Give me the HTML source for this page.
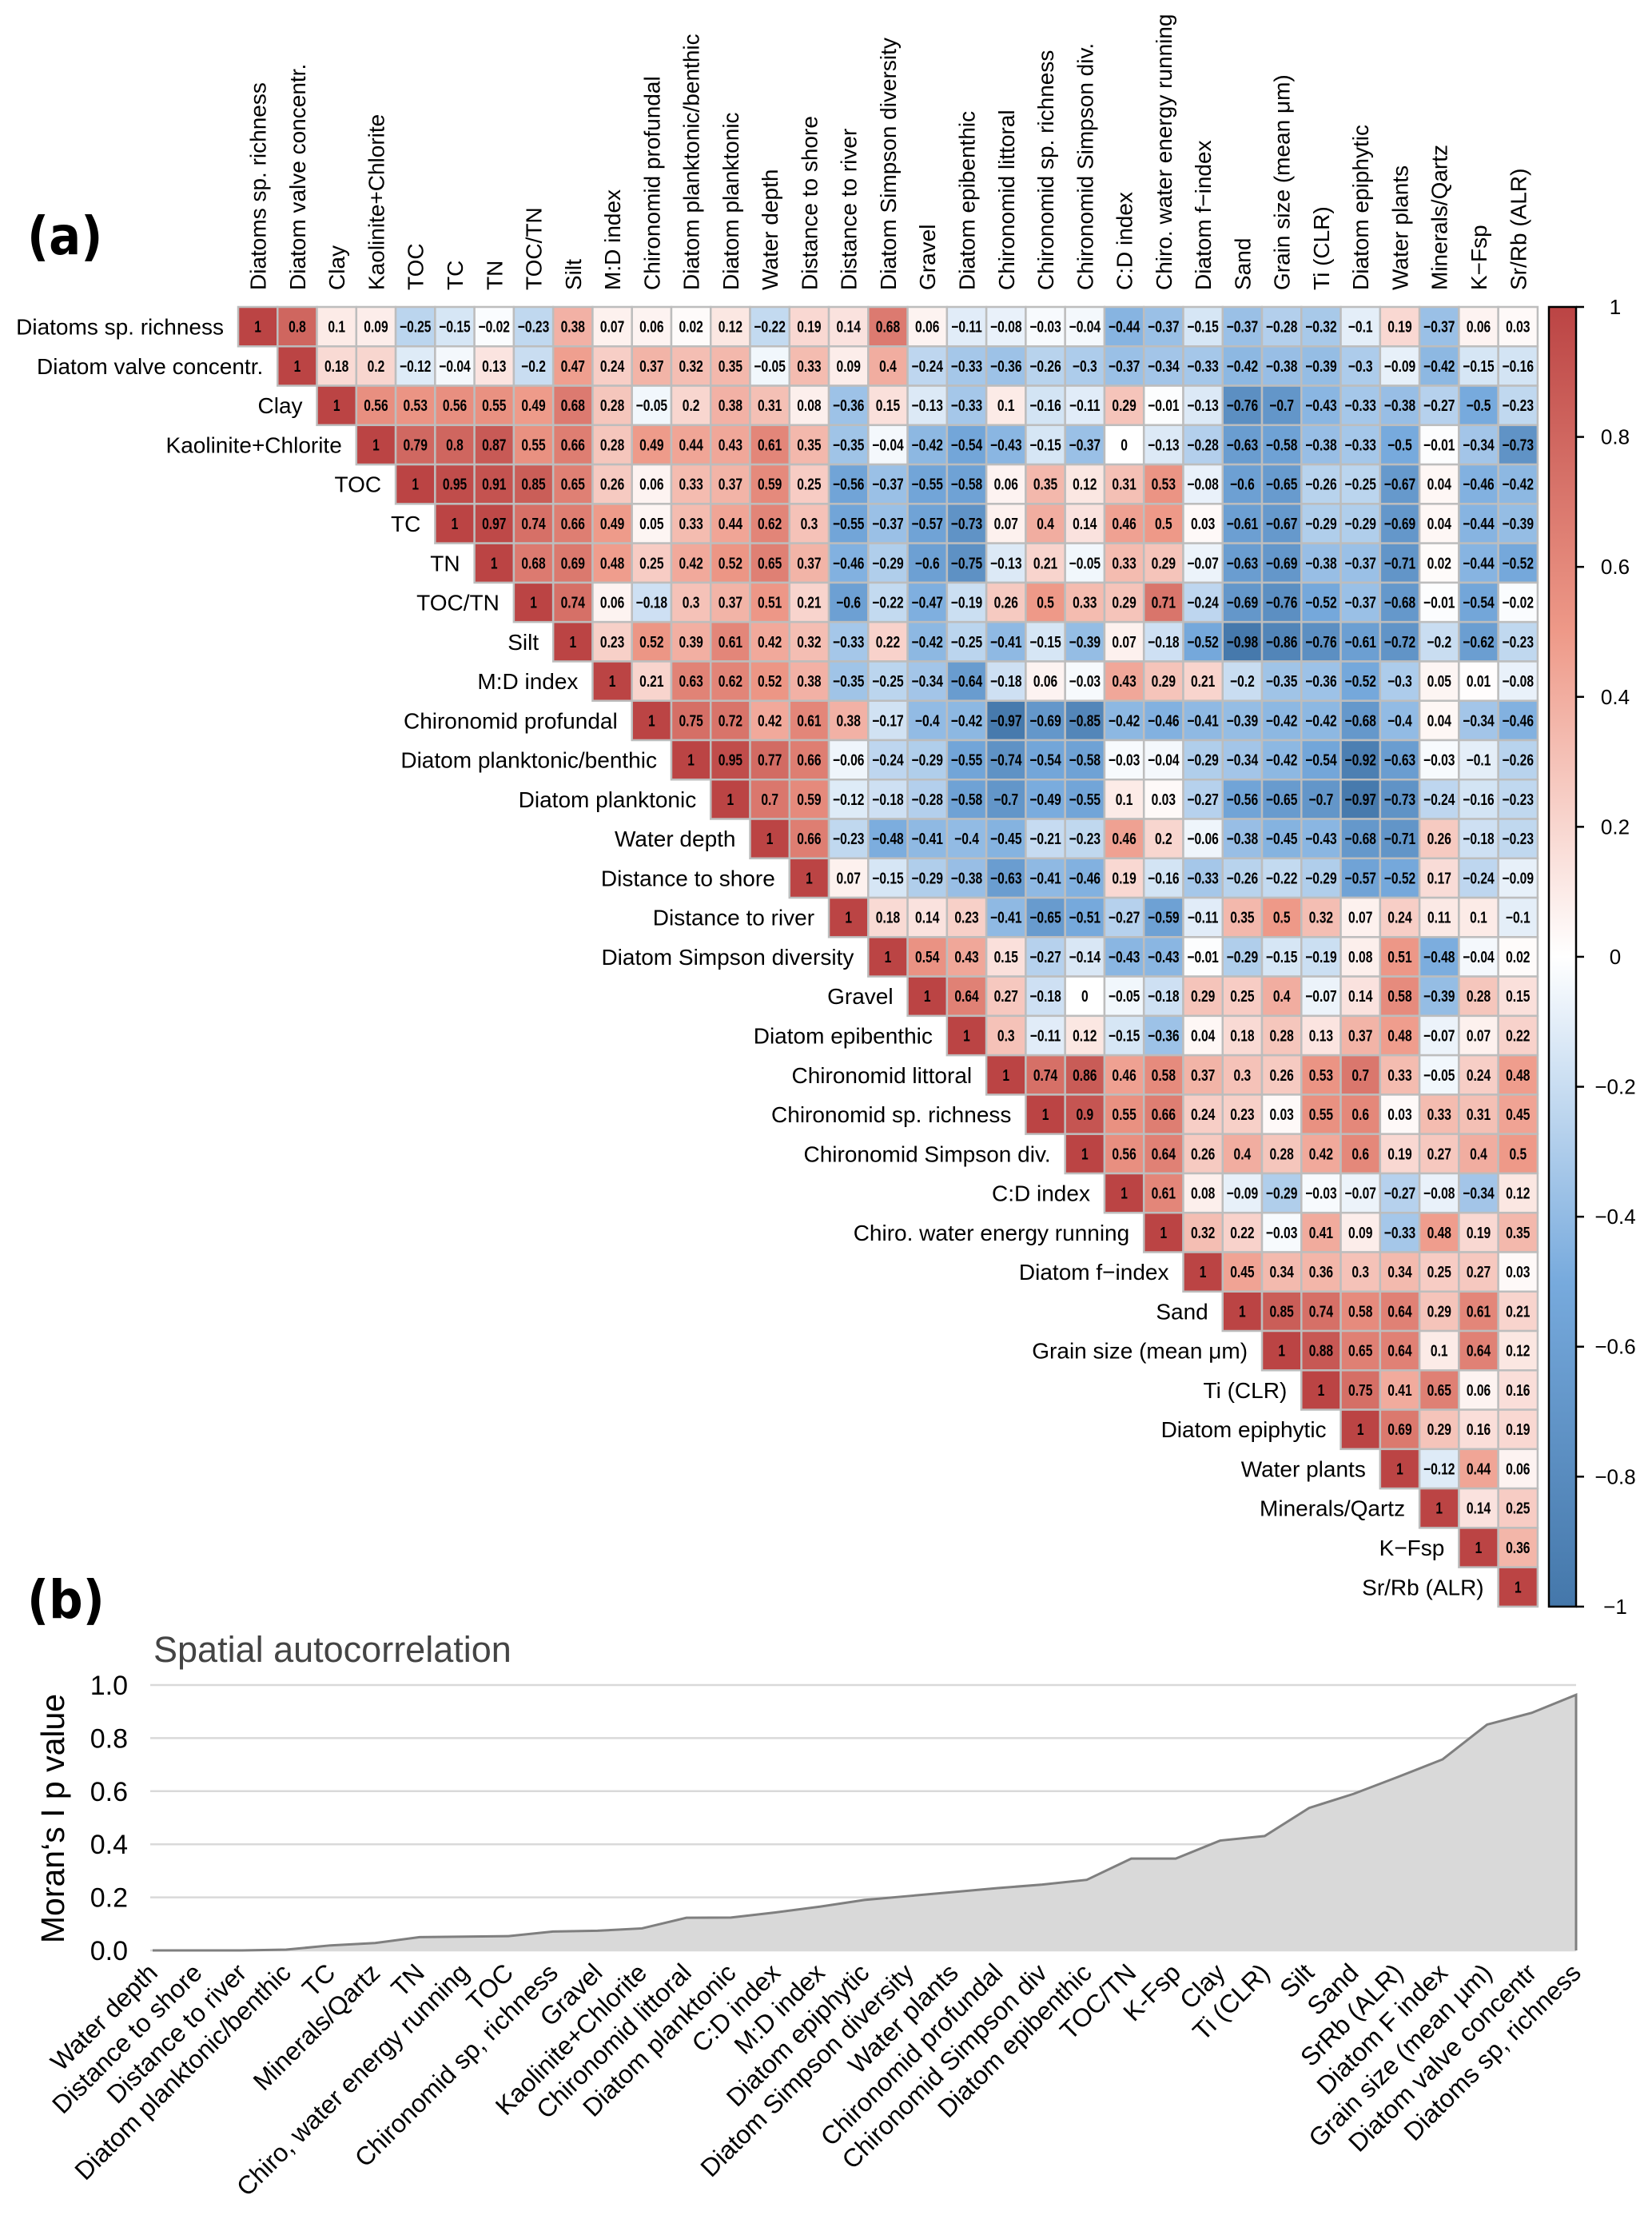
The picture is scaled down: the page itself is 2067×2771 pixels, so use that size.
<!DOCTYPE html>
<html><head><meta charset="utf-8">
<style>
html,body{margin:0;padding:0;background:#fff;}
svg{display:block;font-family:"Liberation Sans",Arial,sans-serif;}
</style></head>
<body>
<svg id="chart" width="2067" height="2771" viewBox="0 0 2067 2771" xmlns="http://www.w3.org/2000/svg">
<text x="34" y="318" font-size="66" font-weight="bold" font-family="DejaVu Sans, sans-serif" transform="translate(34,0) scale(0.9,1) translate(-34,0)">(a)</text>
<text x="34" y="2024" font-size="66" font-weight="bold" font-family="DejaVu Sans, sans-serif" transform="translate(34,0) scale(0.9,1) translate(-34,0)">(b)</text>
<g id="heat"></g>
<g id="cbar"></g>
<g id="moran"></g>
</svg>
<script>
const vars = ["Diatoms sp. richness","Diatom valve concentr.","Clay","Kaolinite+Chlorite","TOC","TC","TN","TOC/TN","Silt","M:D index","Chironomid profundal","Diatom planktonic/benthic","Diatom planktonic","Water depth","Distance to shore","Distance to river","Diatom Simpson diversity","Gravel","Diatom epibenthic","Chironomid littoral","Chironomid sp. richness","Chironomid Simpson div.","C:D index","Chiro. water energy running","Diatom f\u2212index","Sand","Grain size (mean \u03bcm)","Ti (CLR)","Diatom epiphytic","Water plants","Minerals/Qartz","K\u2212Fsp","Sr/Rb (ALR)"];
const corrRows = [
[1,0.8,0.1,0.09,-0.25,-0.15,-0.02,-0.23,0.38,0.07,0.06,0.02,0.12,-0.22,0.19,0.14,0.68,0.06,-0.11,-0.08,-0.03,-0.04,-0.44,-0.37,-0.15,-0.37,-0.28,-0.32,-0.1,0.19,-0.37,0.06,0.03],
[1,0.18,0.2,-0.12,-0.04,0.13,-0.2,0.47,0.24,0.37,0.32,0.35,-0.05,0.33,0.09,0.4,-0.24,-0.33,-0.36,-0.26,-0.3,-0.37,-0.34,-0.33,-0.42,-0.38,-0.39,-0.3,-0.09,-0.42,-0.15,-0.16],
[1,0.56,0.53,0.56,0.55,0.49,0.68,0.28,-0.05,0.2,0.38,0.31,0.08,-0.36,0.15,-0.13,-0.33,0.1,-0.16,-0.11,0.29,-0.01,-0.13,-0.76,-0.7,-0.43,-0.33,-0.38,-0.27,-0.5,-0.23],
[1,0.79,0.8,0.87,0.55,0.66,0.28,0.49,0.44,0.43,0.61,0.35,-0.35,-0.04,-0.42,-0.54,-0.43,-0.15,-0.37,0,-0.13,-0.28,-0.63,-0.58,-0.38,-0.33,-0.5,-0.01,-0.34,-0.73],
[1,0.95,0.91,0.85,0.65,0.26,0.06,0.33,0.37,0.59,0.25,-0.56,-0.37,-0.55,-0.58,0.06,0.35,0.12,0.31,0.53,-0.08,-0.6,-0.65,-0.26,-0.25,-0.67,0.04,-0.46,-0.42],
[1,0.97,0.74,0.66,0.49,0.05,0.33,0.44,0.62,0.3,-0.55,-0.37,-0.57,-0.73,0.07,0.4,0.14,0.46,0.5,0.03,-0.61,-0.67,-0.29,-0.29,-0.69,0.04,-0.44,-0.39],
[1,0.68,0.69,0.48,0.25,0.42,0.52,0.65,0.37,-0.46,-0.29,-0.6,-0.75,-0.13,0.21,-0.05,0.33,0.29,-0.07,-0.63,-0.69,-0.38,-0.37,-0.71,0.02,-0.44,-0.52],
[1,0.74,0.06,-0.18,0.3,0.37,0.51,0.21,-0.6,-0.22,-0.47,-0.19,0.26,0.5,0.33,0.29,0.71,-0.24,-0.69,-0.76,-0.52,-0.37,-0.68,-0.01,-0.54,-0.02],
[1,0.23,0.52,0.39,0.61,0.42,0.32,-0.33,0.22,-0.42,-0.25,-0.41,-0.15,-0.39,0.07,-0.18,-0.52,-0.98,-0.86,-0.76,-0.61,-0.72,-0.2,-0.62,-0.23],
[1,0.21,0.63,0.62,0.52,0.38,-0.35,-0.25,-0.34,-0.64,-0.18,0.06,-0.03,0.43,0.29,0.21,-0.2,-0.35,-0.36,-0.52,-0.3,0.05,0.01,-0.08],
[1,0.75,0.72,0.42,0.61,0.38,-0.17,-0.4,-0.42,-0.97,-0.69,-0.85,-0.42,-0.46,-0.41,-0.39,-0.42,-0.42,-0.68,-0.4,0.04,-0.34,-0.46],
[1,0.95,0.77,0.66,-0.06,-0.24,-0.29,-0.55,-0.74,-0.54,-0.58,-0.03,-0.04,-0.29,-0.34,-0.42,-0.54,-0.92,-0.63,-0.03,-0.1,-0.26],
[1,0.7,0.59,-0.12,-0.18,-0.28,-0.58,-0.7,-0.49,-0.55,0.1,0.03,-0.27,-0.56,-0.65,-0.7,-0.97,-0.73,-0.24,-0.16,-0.23],
[1,0.66,-0.23,-0.48,-0.41,-0.4,-0.45,-0.21,-0.23,0.46,0.2,-0.06,-0.38,-0.45,-0.43,-0.68,-0.71,0.26,-0.18,-0.23],
[1,0.07,-0.15,-0.29,-0.38,-0.63,-0.41,-0.46,0.19,-0.16,-0.33,-0.26,-0.22,-0.29,-0.57,-0.52,0.17,-0.24,-0.09],
[1,0.18,0.14,0.23,-0.41,-0.65,-0.51,-0.27,-0.59,-0.11,0.35,0.5,0.32,0.07,0.24,0.11,0.1,-0.1],
[1,0.54,0.43,0.15,-0.27,-0.14,-0.43,-0.43,-0.01,-0.29,-0.15,-0.19,0.08,0.51,-0.48,-0.04,0.02],
[1,0.64,0.27,-0.18,0,-0.05,-0.18,0.29,0.25,0.4,-0.07,0.14,0.58,-0.39,0.28,0.15],
[1,0.3,-0.11,0.12,-0.15,-0.36,0.04,0.18,0.28,0.13,0.37,0.48,-0.07,0.07,0.22],
[1,0.74,0.86,0.46,0.58,0.37,0.3,0.26,0.53,0.7,0.33,-0.05,0.24,0.48],
[1,0.9,0.55,0.66,0.24,0.23,0.03,0.55,0.6,0.03,0.33,0.31,0.45],
[1,0.56,0.64,0.26,0.4,0.28,0.42,0.6,0.19,0.27,0.4,0.5],
[1,0.61,0.08,-0.09,-0.29,-0.03,-0.07,-0.27,-0.08,-0.34,0.12],
[1,0.32,0.22,-0.03,0.41,0.09,-0.33,0.48,0.19,0.35],
[1,0.45,0.34,0.36,0.3,0.34,0.25,0.27,0.03],
[1,0.85,0.74,0.58,0.64,0.29,0.61,0.21],
[1,0.88,0.65,0.64,0.1,0.64,0.12],
[1,0.75,0.41,0.65,0.06,0.16],
[1,0.69,0.29,0.16,0.19],
[1,-0.12,0.44,0.06],
[1,0.14,0.25],
[1,0.36],
[1]];
const cbTicks = [1,0.8,0.6,0.4,0.2,0,-0.2,-0.4,-0.6,-0.8,-1];
const cbTickLabels = ["1","0.8","0.6","0.4","0.2","0","\u22120.2","\u22120.4","\u22120.6","\u22120.8","\u22121"];

const moranCats = ["Water depth","Distance to shore","Distance to river","Diatom planktonic/benthic","TC","Minerals/Qartz","TN","Chiro, water energy running","TOC","Chironomid sp, richness","Gravel","Kaolinite+Chlorite","Chironomid littoral","Diatom planktonic","C:D index","M:D index","Diatom epiphytic","Diatom Simpson diversity","Water plants","Chironomid profundal","Chironomid Simpson div","Diatom epibenthic","TOC/TN","K-Fsp","Clay","Ti (CLR)","Silt","Sand","SrRb (ALR)","Diatom F index","Grain size (mean \u00b5m)","Diatom valve concentr","Diatoms sp, richness"];
const moranVals = [0,0,0,0.003,0.019,0.028,0.05,0.052,0.054,0.071,0.074,0.083,0.123,0.124,0.143,0.165,0.19,0.205,0.22,0.235,0.248,0.266,0.346,0.346,0.414,0.431,0.537,0.59,0.654,0.72,0.851,0.895,0.963];
const moranTicks = [0,0.2,0.4,0.6,0.8,1.0];

const NS="http://www.w3.org/2000/svg";
function mk(tag, attrs, parent, txt){const e=document.createElementNS(NS,tag);for(const k in attrs)e.setAttribute(k,attrs[k]);if(txt!==undefined)e.textContent=txt;parent.appendChild(e);return e;}
const stops=[[-1,[0x44,0x77,0xAA]],[-0.5,[0x77,0xAA,0xDD]],[0,[255,255,255]],[0.5,[0xEE,0x99,0x88]],[1,[0xBB,0x44,0x44]]];
function color(v){v=Math.max(-1,Math.min(1,v));for(let i=0;i<4;i++){const a=stops[i],b=stops[i+1];if(v<=b[0]){const t=(v-a[0])/(b[0]-a[0]);const c=a[1].map((x,j)=>Math.round(x+(b[1][j]-x)*t));return `rgb(${c[0]},${c[1]},${c[2]})`;}}return "rgb(187,68,68)";}
function fmt(v){return v<0?"\u2212"+String(-v):String(v);}

// heatmap
const X0=298, Y0=384, CS=49.27, N=vars.length;
const cx=i=>X0+i*CS, cy=i=>Y0+i*CS;
const heat=document.getElementById('heat');
vars.forEach((name,i)=>{
  const t=mk('text',{x:0,y:0,'font-size':28,transform:`translate(${cx(i)+CS/2+10},363) rotate(-90)`},heat,name);
  
  
  const r=mk('text',{x:cx(i)-18,y:cy(i)+CS/2+10,'font-size':28,'text-anchor':'end'},heat,name);
  
  
});
corrRows.forEach((row,i)=>{
  row.forEach((v,k)=>{
    const j=i+k;
    const rc=mk('rect',{x:cx(j),y:cy(i),width:CS,height:CS,fill:color(v),stroke:'#bdbdbd','stroke-width':2.5},heat);
    
    
  });
});
corrRows.forEach((row,i)=>{
  row.forEach((v,k)=>{
    const j=i+k;
    const t=mk('text',{x:0,y:0,'font-size':20,'font-weight':'bold','text-anchor':'middle',transform:`translate(${cx(j)+CS/2},${cy(i)+CS/2+7}) scale(0.78,1)`},heat,fmt(v));
    
    
  });
});

// colorbar
const cb=document.getElementById('cbar');
const CBX=1938, CBW=34, CBT=Y0, CBB=Y0+N*CS;
const cbY=v=>CBT+(1-v)/2*(CBB-CBT);
const defs=mk('defs',{},cb);
const lg=mk('linearGradient',{id:'cbg',x1:0,y1:0,x2:0,y2:1},defs);
stops.slice().reverse().forEach(s=>{mk('stop',{offset:((1-s[0])/2*100)+'%','stop-color':`rgb(${s[1].join(',')})`},lg);});
const cbr=mk('rect',{x:CBX,y:CBT,width:CBW,height:CBB-CBT,fill:'url(#cbg)',stroke:'#000','stroke-width':2.5},cb);


cbTicks.forEach((v,i)=>{
  const l=mk('line',{x1:CBX+CBW,x2:CBX+CBW+10,y1:cbY(v),y2:cbY(v),stroke:'#000','stroke-width':2.5},cb);
  
  
  const t=mk('text',{x:2021,y:cbY(v)+9,'font-size':26,'text-anchor':'middle'},cb,cbTickLabels[i]);
  
  
});

// moran chart
const mg=document.getElementById('moran');
const PX0=191, PX1=1972, PY0=2440, PY1=2108;
const mx=i=>PX0+i*(PX1-PX0)/(moranCats.length-1);
const my=v=>PY0-v*(PY0-PY1);
const tt=mk('text',{x:192,y:2079,'font-size':45,fill:'#444'},mg,'Spatial autocorrelation');


moranTicks.forEach(v=>{
  const l=mk('line',{x1:188,x2:PX1,y1:my(v),y2:my(v),stroke:'#d9d9d9','stroke-width':2.5},mg);
  
  
  const t=mk('text',{x:160,y:my(v)+12,'font-size':34,'text-anchor':'end'},mg,v.toFixed(1));
  
  
});
const yt=mk('text',{x:0,y:0,'font-size':41,'text-anchor':'middle',transform:'translate(80,2275) rotate(-90)'},mg,'Moran\u2018s I p value');


let d=`M${mx(0)},${my(0)} `;
moranVals.forEach((v,i)=>{d+=`L${mx(i)},${my(v)} `;});
const area=mk('path',{d:d+`L${mx(moranVals.length-1)},${my(0)} Z`,fill:'#d9d9d9',stroke:'none'},mg);


let ld='';
moranVals.forEach((v,i)=>{ld+=(i?'L':'M')+`${mx(i)},${my(v)} `;});
ld+=`L${mx(moranVals.length-1)},${my(0)}`;
const line=mk('path',{d:ld,fill:'none',stroke:'#7f7f7f','stroke-width':3},mg);


moranCats.forEach((c,i)=>{
  const t=mk('text',{x:0,y:0,'font-size':32,'text-anchor':'end',transform:`translate(${mx(i)+8},2470) rotate(-45)`},mg,c);
  
  
});
</script>
</body></html>
